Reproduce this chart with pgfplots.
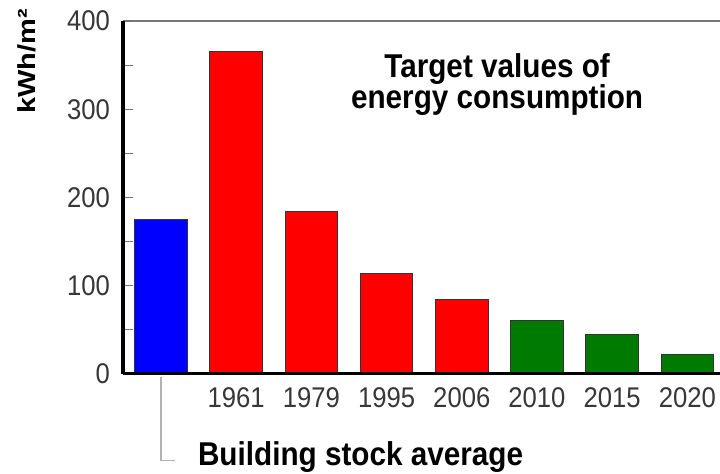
\documentclass[border=0pt]{standalone}
\usepackage{pgfplots}
\pgfplotsset{compat=1.18}
\usepackage{graphicx}
\usepackage{fontspec}
\setmainfont{Liberation Sans}[FakeStretch=0.9]
\newfontfamily\ylabfont{Liberation Sans}
\definecolor{barred}{RGB}{255,0,0}
\definecolor{barblue}{RGB}{0,0,255}
\definecolor{bargreen}{RGB}{0,122,0}
\definecolor{ticklab}{RGB}{55,55,55}
\definecolor{topline}{RGB}{120,120,120}
\begin{document}
\begin{tikzpicture}
\begin{axis}[
  at={(123bp,100bp)}, anchor=south west,
  scale only axis, width=597bp, height=353bp,
  xmin=-0.505, xmax=7.434, ymin=0, ymax=400,
  axis x line*=bottom, axis y line*=left,
  axis line style={-, line width=3bp, black},
  axis on top,
  xtick={1,...,7}, xticklabels={1961,1979,1995,2006,2010,2015,2020},
  ytick={0,100,200,300,400}, minor ytick={50,150,250,350},
  tick align=inside,
  major tick length=10bp, minor tick length=10bp,
  x tick style={draw=none},
  y tick style={black!55, line width=1.2bp},
  tick label style={font=\fontsize{28.5bp}{30bp}\selectfont, text=ticklab},
  /pgf/number format/assume math mode=true,
  yticklabel style={inner sep=0pt, xshift=-13bp},
  xticklabel style={inner sep=0pt, yshift=-13bp},
  clip=false,
]
\addplot[ybar, bar width=0.7, fill=barblue, draw=black!80, line width=0.8bp] coordinates {(0,175)};
\addplot[ybar, bar width=0.7, fill=barred, draw=black!80, line width=0.8bp] coordinates {(1,365) (2,184) (3,114) (4,84)};
\addplot[ybar, bar width=0.7, fill=bargreen, draw=black!80, line width=0.8bp] coordinates {(5,61) (6,45) (7,22)};
\draw[topline, line width=1.6bp] (axis cs:-0.505,400) -- (axis cs:7.434,400);
\node[align=center, font=\fontsize{33bp}{26bp}\selectfont\bfseries] at (axis cs:4.47,328) {Target values of\\energy consumption};
\node[rotate=90, anchor=center] at (axis cs:-1.78,354) {\scalebox{1}[0.85]{\ylabfont\bfseries\fontsize{29bp}{30bp}\selectfont kWh/m²}};
\draw[gray!60, line width=1.5bp] (axis cs:0,-3) |- (axis cs:0.19,-98);
\node[anchor=base west, inner sep=0pt, font=\fontsize{33bp}{36bp}\selectfont\bfseries] at (axis cs:0.49,-104) {Building stock average};
\end{axis}
\pgfresetboundingbox
\useasboundingbox (0,0) rectangle (720bp,474bp);
\end{tikzpicture}
\end{document}
